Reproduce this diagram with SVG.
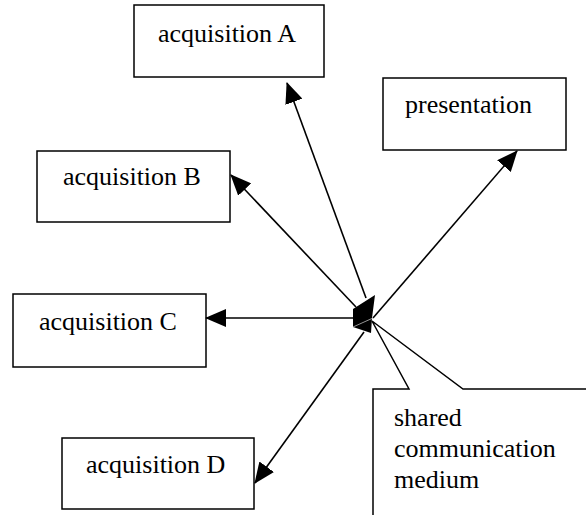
<svg xmlns="http://www.w3.org/2000/svg" width="586" height="515" viewBox="0 0 586 515">
  <style>
    .box { fill: #ffffff; stroke: #000000; stroke-width: 1.5; }
    .lbl { font-family: "Liberation Serif", "Times New Roman", serif; font-size: 26px; fill: #000000; }
    .conn { stroke: #000000; stroke-width: 1.6; fill: none; marker-end: url(#arrow); }
    .callout { fill: none; stroke: #000000; stroke-width: 1.5; stroke-linejoin: miter; }
  </style>
  <defs>
    <marker id="arrow" viewBox="0 0 21 18" markerWidth="21" markerHeight="18" refX="20" refY="9" orient="auto" markerUnits="userSpaceOnUse">
      <path d="M0,0 L21,9 L0,18 z" fill="#000000"/>
    </marker>
  </defs>
  <rect width="586" height="515" fill="#ffffff"/>

  <g id="acquisition-a">
    <rect class="box" x="134" y="5" width="190" height="72"/>
    <text class="lbl" x="158" y="42">acquisition A</text>
  </g>
  <g id="presentation">
    <rect class="box" x="383" y="78" width="183" height="72"/>
    <text class="lbl" x="405" y="113">presentation</text>
  </g>
  <g id="acquisition-b">
    <rect class="box" x="37" y="151" width="193" height="71"/>
    <text class="lbl" x="63" y="185">acquisition B</text>
  </g>
  <g id="acquisition-c">
    <rect class="box" x="13" y="294" width="193" height="73"/>
    <text class="lbl" x="39" y="330">acquisition C</text>
  </g>
  <g id="acquisition-d">
    <rect class="box" x="62" y="438" width="192" height="71"/>
    <text class="lbl" x="86" y="473">acquisition D</text>
  </g>

  <g id="connectors">
    <line class="conn" x1="366" y1="298" x2="287" y2="83"/>
    <line class="conn" x1="356" y1="307" x2="231" y2="175"/>
    <line class="conn" x1="356" y1="318" x2="206" y2="318"/>
    <line class="conn" x1="364" y1="332" x2="255" y2="483"/>
    <line class="conn" x1="373" y1="318" x2="517" y2="151"/>
  </g>

  <g id="hub">
    <polygon points="353,309 375,295 372,318 371,333 353,327" fill="#000000"/>
    <line x1="353" y1="327" x2="373" y2="318" stroke="#bbbbbb" stroke-width="0.8"/>
  </g>

  <g id="shared-medium">
    <path class="callout" d="M373,515 L373,389 L409,389 L372,321 L463,389 L586,389"/>
    <text class="lbl" x="394" y="426">shared</text>
    <text class="lbl" x="394" y="457">communication</text>
    <text class="lbl" x="394" y="488">medium</text>
  </g>
</svg>
